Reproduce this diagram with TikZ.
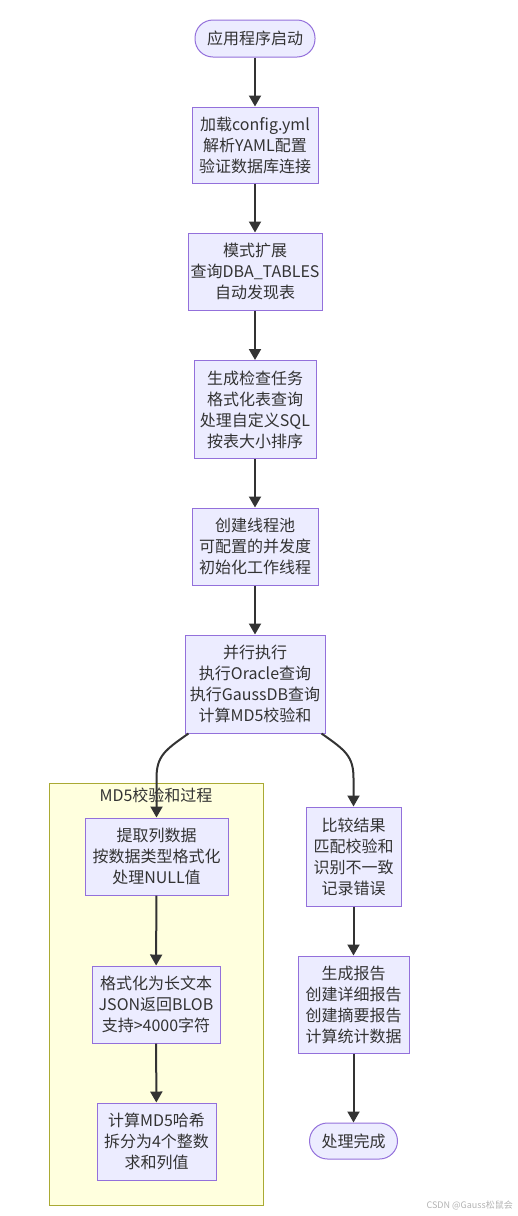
\documentclass[tikz,border=0pt]{standalone}
\usepackage{fontspec}
\setmainfont{Noto Sans CJK SC}
\usetikzlibrary{arrows.meta}
\definecolor{nodefill}{HTML}{ECECFF}
\definecolor{nodeline}{HTML}{9370DB}
\definecolor{subfill}{HTML}{FFFFDE}
\definecolor{subline}{HTML}{AAAA33}
\definecolor{txt}{HTML}{333333}
\tikzset{
  box/.style={draw=nodeline, fill=nodefill, line width=1pt, text=txt, align=center,
    inner sep=0pt, font=\fontsize{16pt}{21pt}\selectfont},
  pill/.style={box, rounded corners=18pt},
  arr/.style={draw=txt, line width=2pt, -{Triangle[length=11pt,width=12pt]}},
}
\begin{document}
\begin{tikzpicture}[x=1pt,y=-1pt]
\useasboundingbox (0,0) rectangle (517,1216);
% subgraph
\node[draw=subline, fill=subfill, line width=1pt, minimum width=214pt, minimum height=422pt, inner sep=0pt] (sg) at (156,994) {};
\node[text=txt, font=\fontsize{16pt}{21pt}\selectfont, inner sep=0pt] (sgt) at (156,795) {MD5校验和过程};
% main column
\node[pill, minimum width=120pt, minimum height=37pt] (n1) at (255,38.5) {应用程序启动};
\node[box, minimum width=126pt, minimum height=76pt] (n2) at (255,145) {加载config.yml\\解析YAML配置\\验证数据库连接};
\node[box, minimum width=134pt, minimum height=77pt] (n3) at (255,271.5) {模式扩展\\查询DBA\_TABLES\\自动发现表};
\node[box, minimum width=122pt, minimum height=98pt] (n4) at (255,409.5) {生成检查任务\\格式化表查询\\处理自定义SQL\\按表大小排序};
\node[box, minimum width=126pt, minimum height=77pt] (n5) at (255,546.5) {创建线程池\\可配置的并发度\\初始化工作线程};
\node[box, minimum width=140pt, minimum height=98pt] (n6) at (255,684) {并行执行\\执行Oracle查询\\执行GaussDB查询\\计算MD5校验和};
% subgraph nodes
\node[box, minimum width=143pt, minimum height=77pt] (a) at (156.5,856.5) {提取列数据\\按数据类型格式化\\处理NULL值};
\node[box, minimum width=128pt, minimum height=77pt] (b) at (156,1004.5) {格式化为长文本\\JSON返回BLOB\\支持>4000字符};
\node[box, minimum width=119pt, minimum height=77pt] (c) at (156.5,1141.5) {计算MD5哈希\\拆分为4个整数\\求和列值};
% right column
\node[box, minimum width=95pt, minimum height=99pt] (d) at (353.5,856.5) {比较结果\\匹配校验和\\识别不一致\\记录错误};
\node[box, minimum width=111pt, minimum height=97pt] (e) at (353.5,1004.5) {生成报告\\创建详细报告\\创建摘要报告\\计算统计数据};
\node[pill, minimum width=88pt, minimum height=36pt] (f) at (353.5,1141) {处理完成};
% watermark
\node[text=black!30, font=\fontsize{9pt}{10pt}\selectfont, anchor=east, inner sep=0pt] (wm) at (513,1205) {CSDN @Gauss松鼠会};
% edges
\draw[arr] (n1) -- (n2);
\draw[arr] (n2) -- (n3);
\draw[arr] (n3) -- (n4);
\draw[arr] (n4) -- (n5);
\draw[arr] (n5) -- (n6);
\draw[arr] ([xshift=4pt]n6.south west) .. controls (165,750) and (156.5,756) .. (156.5,778) -- (a.north);
\draw[arr] ([xshift=-4pt]n6.south east) .. controls (345,750) and (353.5,756) .. (353.5,778) -- (d.north);
\draw[arr] (a) -- (b);
\draw[arr] (b) -- (c);
\draw[arr] (d) -- (e);
\draw[arr] (e) -- (f);
\end{tikzpicture}
\end{document}
